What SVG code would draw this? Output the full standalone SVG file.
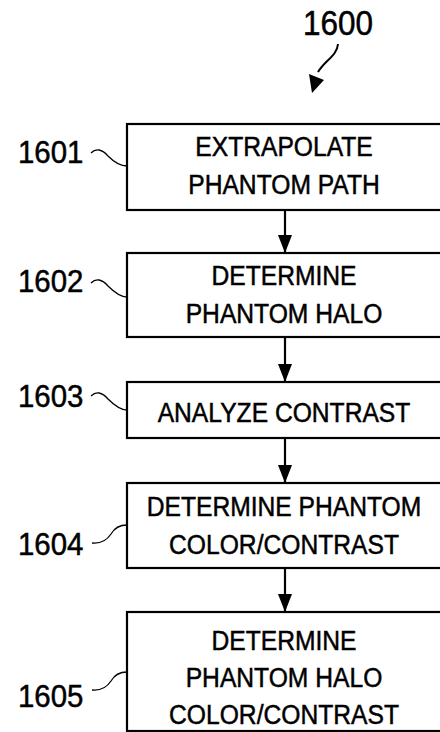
<svg xmlns="http://www.w3.org/2000/svg" width="440" height="732" viewBox="0 0 440 732">
  <style>
    .box { fill: #ffffff; stroke: #000000; stroke-width: 2.2; }
    .t { font-family: "Liberation Sans", Arial, sans-serif; font-size: 28px; fill: #000000; stroke: #000000; stroke-width: 0.5; text-anchor: middle; }
    .lbl { font-family: "Liberation Sans", Arial, sans-serif; font-size: 32px; fill: #000000; stroke: #000000; stroke-width: 0.5; text-anchor: start; }
    .lead { fill: none; stroke: #000000; stroke-width: 1.3; }
    .conn { fill: none; stroke: #000000; stroke-width: 2.2; }
  </style>
  <defs>
    <marker id="ah" viewBox="0 0 18 14" refX="18" refY="7" markerWidth="18" markerHeight="14" markerUnits="userSpaceOnUse" orient="auto">
      <path d="M0,0 L18,7 L0,14 Z" fill="#000000"/>
    </marker>
  </defs>
  <rect width="440" height="732" fill="#ffffff"/>

  <g id="title">
    <text class="lbl" transform="translate(303,35) scale(0.9,1)" x="0" y="0" style="font-size:35px">1600</text>
    <path d="M338,44 C337,56 325,60 318,72" fill="none" stroke="#000" stroke-width="2"/>
    <path d="M309,74 L324,80 L312,93 Z" fill="#000"/>
  </g>

  <g id="connectors">
    <line class="conn" x1="285" y1="210" x2="285" y2="253" marker-end="url(#ah)"/>
    <line class="conn" x1="285" y1="337" x2="285" y2="382" marker-end="url(#ah)"/>
    <line class="conn" x1="285" y1="438" x2="285" y2="483" marker-end="url(#ah)"/>
    <line class="conn" x1="285" y1="568" x2="285" y2="612" marker-end="url(#ah)"/>
  </g>

  <g id="n1601">
    <rect class="box" x="127" y="124" width="320" height="86"/>
    <text class="t" transform="translate(284,0) scale(0.88,1)" x="0" y="156">EXTRAPOLATE</text>
    <text class="t" transform="translate(284,0) scale(0.88,1)" x="0" y="194">PHANTOM PATH</text>
    <text class="lbl" transform="translate(18,0) scale(0.92,1)" x="0" y="163">1601</text>
    <path class="lead" d="M91,153 C96,148 102,149 108,156 C114,162 120,166 127,166"/>
  </g>

  <g id="n1602">
    <rect class="box" x="127" y="253" width="320" height="84"/>
    <text class="t" transform="translate(284,0) scale(0.88,1)" x="0" y="285">DETERMINE</text>
    <text class="t" transform="translate(284,0) scale(0.88,1)" x="0" y="323">PHANTOM HALO</text>
    <text class="lbl" transform="translate(18,0) scale(0.92,1)" x="0" y="292">1602</text>
    <path class="lead" d="M91,283 C96,278 102,279 108,286 C114,292 120,297 127,297"/>
  </g>

  <g id="n1603">
    <rect class="box" x="127" y="382" width="320" height="56"/>
    <text class="t" transform="translate(284,0) scale(0.88,1)" x="0" y="422">ANALYZE CONTRAST</text>
    <text class="lbl" transform="translate(18,0) scale(0.92,1)" x="0" y="407">1603</text>
    <path class="lead" d="M91,396 C96,391 102,392 108,399 C114,405 120,410 127,410"/>
  </g>

  <g id="n1604">
    <rect class="box" x="127" y="483" width="320" height="85"/>
    <text class="t" transform="translate(284,0) scale(0.88,1)" x="0" y="516">DETERMINE PHANTOM</text>
    <text class="t" transform="translate(284,0) scale(0.88,1)" x="0" y="554">COLOR/CONTRAST</text>
    <text class="lbl" transform="translate(18,0) scale(0.92,1)" x="0" y="555">1604</text>
    <path class="lead" d="M92,543 C101,544 107,540 111,534 C115,527 120,525 127,525"/>
  </g>

  <g id="n1605">
    <rect class="box" x="127" y="612" width="320" height="119"/>
    <text class="t" transform="translate(284,0) scale(0.88,1)" x="0" y="650">DETERMINE</text>
    <text class="t" transform="translate(284,0) scale(0.88,1)" x="0" y="687">PHANTOM HALO</text>
    <text class="t" transform="translate(284,0) scale(0.88,1)" x="0" y="724">COLOR/CONTRAST</text>
    <text class="lbl" transform="translate(18,0) scale(0.92,1)" x="0" y="707">1605</text>
    <path class="lead" d="M92,690 C101,691 107,687 111,681 C115,674 120,672 127,672"/>
  </g>
</svg>
